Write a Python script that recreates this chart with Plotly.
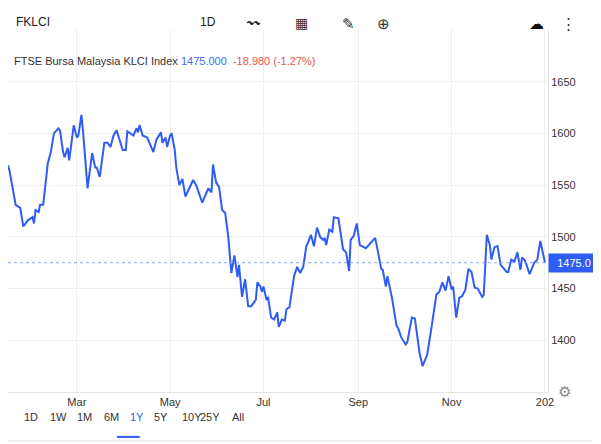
import plotly.graph_objects as go

# FKLCI closing values
dates = [
    "2023-01-10", "2023-01-12", "2023-01-15", "2023-01-16", "2023-01-20", "2023-01-23",
    "2023-01-25", "2023-01-28", "2023-01-31", "2023-02-01", "2023-02-02", "2023-02-04",
    "2023-02-05", "2023-02-07", "2023-02-10", "2023-02-12", "2023-02-14", "2023-02-17",
    "2023-02-18", "2023-02-20", "2023-02-21", "2023-02-23", "2023-02-24", "2023-02-27",
    "2023-03-01", "2023-03-02", "2023-03-04", "2023-03-05", "2023-03-08", "2023-03-11",
    "2023-03-13", "2023-03-14", "2023-03-16", "2023-03-19", "2023-03-21", "2023-03-23",
    "2023-03-25", "2023-03-27", "2023-03-31", "2023-04-02", "2023-04-03", "2023-04-07",
    "2023-04-09", "2023-04-10", "2023-04-11", "2023-04-13", "2023-04-16", "2023-04-20",
    "2023-04-22", "2023-04-25", "2023-04-26", "2023-04-28", "2023-04-29", "2023-05-01",
    "2023-05-02", "2023-05-04", "2023-05-05", "2023-05-07", "2023-05-09", "2023-05-11",
    "2023-05-16", "2023-05-18", "2023-05-22", "2023-05-26", "2023-05-28", "2023-05-29",
    "2023-05-31", "2023-06-02", "2023-06-04", "2023-06-06", "2023-06-08", "2023-06-10",
    "2023-06-12", "2023-06-14", "2023-06-15", "2023-06-17", "2023-06-19", "2023-06-21",
    "2023-06-23", "2023-06-25", "2023-06-26", "2023-06-27", "2023-06-29", "2023-06-30",
    "2023-07-01", "2023-07-03", "2023-07-04", "2023-07-06", "2023-07-08", "2023-07-10",
    "2023-07-11", "2023-07-13", "2023-07-15", "2023-07-16", "2023-07-18", "2023-07-21",
    "2023-07-23", "2023-07-25", "2023-07-27", "2023-07-29", "2023-07-30", "2023-08-01",
    "2023-08-03", "2023-08-05", "2023-08-07", "2023-08-09", "2023-08-10", "2023-08-11",
    "2023-08-13", "2023-08-15", "2023-08-16", "2023-08-19", "2023-08-22", "2023-08-24",
    "2023-08-26", "2023-08-27", "2023-08-29", "2023-08-31", "2023-09-02", "2023-09-06",
    "2023-09-08", "2023-09-12", "2023-09-13", "2023-09-16", "2023-09-17", "2023-09-19",
    "2023-09-20", "2023-09-23", "2023-09-26", "2023-09-27", "2023-09-29", "2023-10-02",
    "2023-10-03", "2023-10-06", "2023-10-08", "2023-10-11", "2023-10-13", "2023-10-16",
    "2023-10-19", "2023-10-22", "2023-10-24", "2023-10-26", "2023-10-28", "2023-10-30",
    "2023-11-01", "2023-11-02", "2023-11-04", "2023-11-06", "2023-11-08", "2023-11-10",
    "2023-11-12", "2023-11-14", "2023-11-16", "2023-11-18", "2023-11-21", "2023-11-22",
    "2023-11-24", "2023-11-26", "2023-11-27", "2023-11-29", "2023-12-01", "2023-12-03",
    "2023-12-07", "2023-12-08", "2023-12-10", "2023-12-12", "2023-12-14", "2023-12-16",
    "2023-12-17", "2023-12-19", "2023-12-22", "2023-12-25", "2023-12-27", "2023-12-29",
    "2024-01-01",
]
closes = [
    1548, 1564, 1569, 1564, 1531, 1528, 1510, 1516, 1519, 1513, 1526, 1524,
    1531, 1531, 1571, 1582, 1600, 1605, 1603, 1582, 1577, 1586, 1574, 1608,
    1596, 1598, 1618, 1603, 1547, 1581, 1567, 1567, 1558, 1591, 1591, 1587,
    1598, 1603, 1584, 1584, 1602, 1598, 1605, 1601, 1608, 1598, 1596, 1582,
    1594, 1601, 1591, 1596, 1587, 1598, 1600, 1584, 1567, 1550, 1556, 1539,
    1555, 1550, 1533, 1547, 1543, 1570, 1553, 1548, 1526, 1523, 1500, 1465,
    1482, 1461, 1473, 1442, 1459, 1433, 1433, 1437, 1439, 1456, 1452, 1447,
    1452, 1439, 1442, 1422, 1420, 1427, 1413, 1420, 1419, 1430, 1432, 1462,
    1471, 1465, 1471, 1491, 1494, 1502, 1491, 1509, 1500, 1497, 1499, 1492,
    1507, 1505, 1519, 1518, 1488, 1485, 1467, 1497, 1501, 1513, 1492, 1489,
    1492, 1499, 1492, 1469, 1468, 1452, 1462, 1441, 1414, 1412, 1403, 1396,
    1398, 1422, 1421, 1388, 1375, 1386, 1414, 1444, 1447, 1456, 1448, 1462,
    1449, 1452, 1422, 1441, 1443, 1449, 1469, 1466, 1451, 1450, 1442, 1444,
    1502, 1492, 1478, 1490, 1491, 1473, 1466, 1466, 1478, 1476, 1485, 1468,
    1480, 1477, 1464, 1475, 1478, 1496, 1475,
]
last_close = 1475.0
month_ticks = ["2023-03-01", "2023-05-01", "2023-07-01", "2023-09-01", "2023-11-01", "2024-01-01"]
month_labels = ["Mar", "May", "Jul", "Sep", "Nov", "202"]
price_ticks = [1400, 1450, 1500, 1550, 1600, 1650]
ranges = ["1D", "1W", "1M", "6M", "1Y", "5Y", "10Y", "25Y", "All"]

BLUE = "#2f5cf5"
FONT = "Arial, Liberation Sans, sans-serif"

fig = go.Figure()
fig.add_trace(go.Scatter(x=dates, y=closes, mode="lines",
                         line={"color": BLUE, "width": 2}, hoverinfo="skip"))
fig.add_hline(y=last_close, line={"color": "#8aa4f8", "width": 1, "dash": "dot"})

fig.update_xaxes(range=["2023-01-15", "2024-01-03"], tickvals=month_ticks, ticktext=month_labels,
                 showgrid=True, gridcolor="#eeeeee", ticks="", showline=True, linecolor="#e4e4e4",
                 tickfont={"size": 11, "color": "#333"}, zeroline=False)
fig.update_yaxes(range=[1350, 1700], side="right", tickvals=price_ticks, showgrid=True,
                 gridcolor="#eeeeee", ticks="", showline=True, linecolor="#e4e4e4",
                 tickfont={"size": 11, "color": "#333"}, zeroline=False)

shapes = [
    # toolbar background and symbol box
    dict(type="rect", xref="paper", yref="paper", x0=-0.02, x1=1.12, y0=1.0055, y1=1.1,
         fillcolor="#f2f2f2", line={"width": 0}, layer="below"),
    dict(type="rect", xref="paper", yref="paper", x0=-0.007, x1=0.315, y0=1.01, y1=1.1,
         fillcolor="white", line={"width": 0}, layer="below"),
]
annotations = [
    dict(text="FKLCI", x=0.011, y=1.047, xanchor="left", font={"size": 12, "color": "#222"}),
    dict(text="1D", x=0.37, y=1.047, font={"size": 12, "color": "#222"}),
    dict(text="〰", x=0.454, y=1.047, font={"size": 13, "color": "#222"}),
    dict(text="▦", x=0.544, y=1.047, font={"size": 14, "color": "#333"}),
    dict(text="✎", x=0.63, y=1.047, font={"size": 15, "color": "#333"}),
    dict(text="⊕", x=0.711, y=1.047, font={"size": 15, "color": "#333"}),
    dict(text="☁", x=0.996, y=1.047, font={"size": 15, "color": "#111"}),
    dict(text="⋮", x=1.056, y=1.047, font={"size": 15, "color": "#333"}),
    dict(text="FTSE Bursa Malaysia KLCI Index <span style='color:#3d6df2'>1475.000</span>"
              "  <span style='color:#ef5350'>-18.980 (-1.27%)</span>",
         x=0.007, y=0.936, xanchor="left", font={"size": 11, "color": "#333"}),
    dict(text="1475.0", x=1.0, y=last_close, yref="y", xanchor="left", bgcolor=BLUE,
         font={"size": 11, "color": "white"}, borderpad=3, width=44),
    dict(text="⚙", x=1.046, y=-0.028, font={"size": 15, "color": "#888"}),
]
xs = [0.026, 0.074, 0.124, 0.174, 0.222, 0.267, 0.319, 0.374, 0.426]
for r, xp in zip(ranges, xs):
    annotations.append(dict(text=r, x=xp, y=-0.091,
                            font={"size": 11, "color": BLUE if r == "1Y" else "#333"}))
shapes.append(dict(type="line", xref="paper", yref="paper", x0=0.202, x1=0.244, y0=-0.124, y1=-0.124,
                   line={"color": BLUE, "width": 2}))
shapes.append(dict(type="line", xref="paper", yref="paper", x0=-0.02, x1=1.12, y0=-0.135, y1=-0.135,
                   line={"color": "#e4e4e4", "width": 1}))
for a in annotations:
    a.setdefault("xref", "paper")
    a.setdefault("yref", "paper")
    a["showarrow"] = False

fig.update_layout(
    width=601, height=444, showlegend=False,
    margin={"l": 0, "r": 61, "t": 22, "b": 60},
    paper_bgcolor="white", plot_bgcolor="white",
    font={"family": FONT},
    shapes=shapes, annotations=annotations,
)
fig.write_html("out.html")
